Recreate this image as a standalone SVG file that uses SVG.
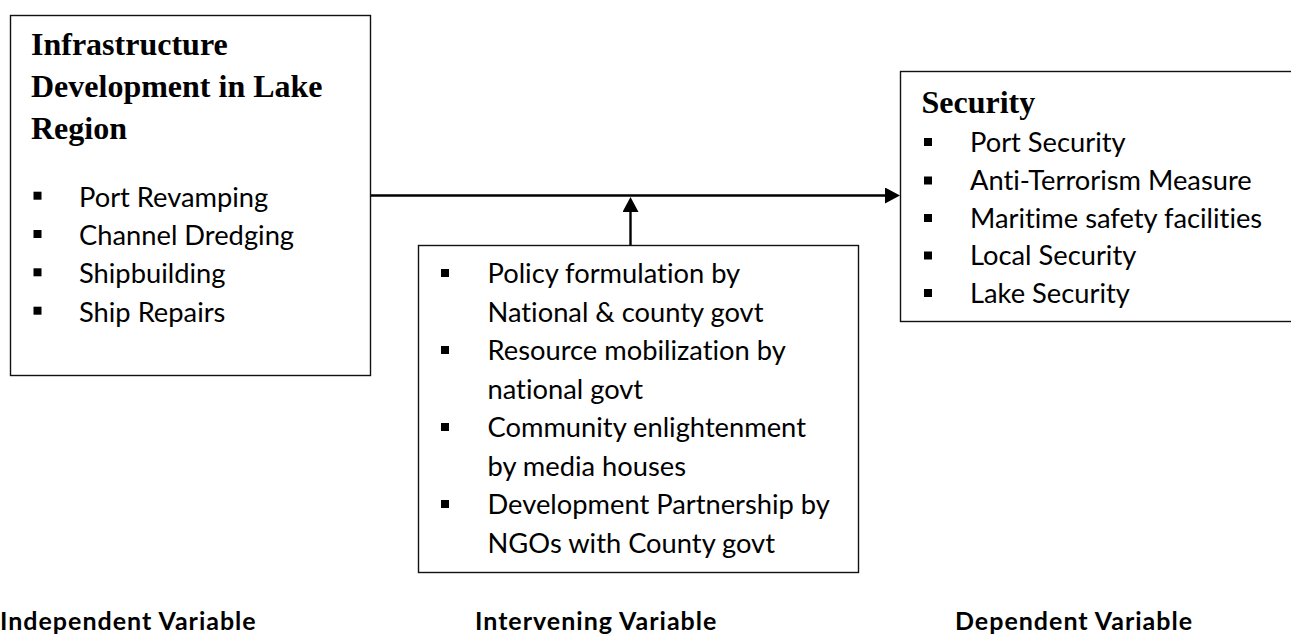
<svg xmlns="http://www.w3.org/2000/svg" width="1291" height="635" viewBox="0 0 1291 635">
<style>
.box{fill:#fff;stroke:#111;stroke-width:1.4}
.title{font-family:"Liberation Serif","Times New Roman",serif;font-weight:bold;font-size:32px;fill:#000}
.item{font-family:Lato,"Liberation Sans",sans-serif;font-size:27.3px;fill:#000;font-variant-ligatures:none}
.bul{fill:#000}
.lab{font-family:Lato,"Liberation Sans",sans-serif;font-weight:bold;font-size:25px;letter-spacing:1px;fill:#000;font-variant-ligatures:none}
.conn{stroke:#000;stroke-width:2.4;fill:none}
</style>
<defs>
<marker id="arr" markerUnits="userSpaceOnUse" markerWidth="16" markerHeight="16" refX="1" refY="8" orient="auto">
<path d="M0,0 L15,8 L0,16 Z" fill="#000"/>
</marker>
</defs>
<rect width="1291" height="635" fill="#fff"/>
<g id="connectors">
<line class="conn" x1="371" y1="195.5" x2="886" y2="195.5" marker-end="url(#arr)"/>
<line class="conn" x1="630.5" y1="246" x2="630.5" y2="211" marker-end="url(#arr)"/>
</g>
<g id="independent">
<rect class="box" x="10.5" y="15.5" width="360" height="360"/>
<text class="title" x="31" y="55">Infrastructure</text>
<text class="title" x="31" y="97">Development in Lake</text>
<text class="title" x="31" y="138.5">Region</text>
<rect class="bul" x="33.5" y="191.7" width="8" height="8"/>
<rect class="bul" x="33.5" y="230" width="8" height="8"/>
<rect class="bul" x="33.5" y="268.3" width="8" height="8"/>
<rect class="bul" x="33.5" y="306.7" width="8" height="8"/>
<text class="item" x="79" y="206.7">Port Revamping</text>
<text class="item" x="79" y="245">Channel Dredging</text>
<text class="item" x="79" y="283.3">Shipbuilding</text>
<text class="item" x="79" y="321.7">Ship Repairs</text>
</g>
<g id="intervening">
<rect class="box" x="418.5" y="245.5" width="440" height="327"/>
<rect class="bul" x="441" y="269" width="8" height="8"/>
<rect class="bul" x="441" y="346" width="8" height="8"/>
<rect class="bul" x="441" y="423" width="8" height="8"/>
<rect class="bul" x="441" y="500" width="8" height="8"/>
<text class="item" x="487.5" y="283">Policy formulation by</text>
<text class="item" x="487.5" y="321.5">National &amp; county govt</text>
<text class="item" x="487.5" y="360">Resource mobilization by</text>
<text class="item" x="487.5" y="398.5">national govt</text>
<text class="item" x="487.5" y="437">Community enlightenment</text>
<text class="item" x="487.5" y="475.5">by media houses</text>
<text class="item" x="487.5" y="514">Development Partnership by</text>
<text class="item" x="487.5" y="552.5">NGOs with County govt</text>
</g>
<g id="dependent">
<rect class="box" x="900.5" y="71.5" width="420" height="250"/>
<text class="title" x="921.5" y="112.7">Security</text>
<rect class="bul" x="924" y="138" width="8" height="8"/>
<rect class="bul" x="924" y="176.5" width="8" height="8"/>
<rect class="bul" x="924" y="214" width="8" height="8"/>
<rect class="bul" x="924" y="251.5" width="8" height="8"/>
<rect class="bul" x="924" y="289" width="8" height="8"/>
<text class="item" x="970" y="152">Port Security</text>
<text class="item" x="970" y="190">Anti-Terrorism Measure</text>
<text class="item" x="970" y="227.5">Maritime safety facilities</text>
<text class="item" x="970" y="265">Local Security</text>
<text class="item" x="970" y="302.5">Lake Security</text>
</g>
<g id="labels">
<text class="lab" x="0" y="629.5">Independent Variable</text>
<text class="lab" x="475" y="629.5">Intervening Variable</text>
<text class="lab" x="955" y="629.5">Dependent Variable</text>
</g>
</svg>
